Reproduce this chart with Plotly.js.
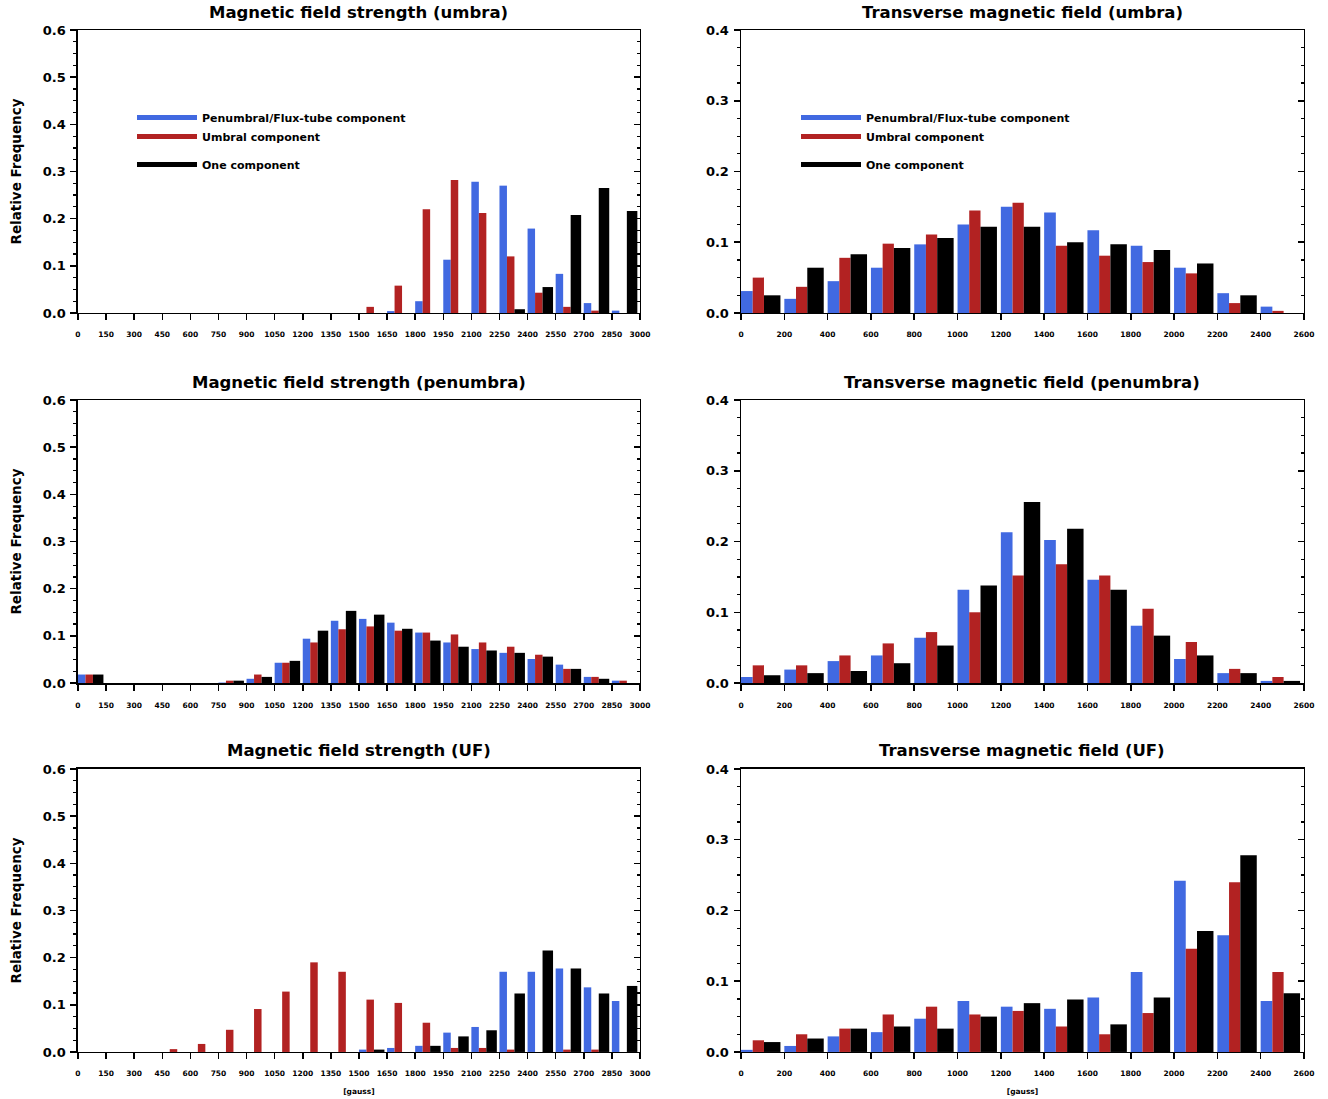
<!DOCTYPE html>
<html><head><meta charset="utf-8">
<script src="https://cdn.plot.ly/plotly-3.0.1.min.js"></script>
<style>html,body{margin:0;padding:0;background:#fff}#chart{width:1328px;height:1099px}</style>
</head><body><div id="chart"></div>
<script>
// ---- categories (bin left edges, gauss) ----
const fieldBins = [0,150,300,450,600,750,900,1050,1200,1350,1500,1650,1800,1950,2100,2250,2400,2550,2700,2850];
const transBins = [0,200,400,600,800,1000,1200,1400,1600,1800,2000,2200,2400];
// ---- tick labels ----
const fieldTicks = [0,150,300,450,600,750,900,1050,1200,1350,1500,1650,1800,1950,2100,2250,2400,2550,2700,2850,3000];
const transTicks = [0,200,400,600,800,1000,1200,1400,1600,1800,2000,2200,2400,2600];
const seriesNames = ['Penumbral/Flux-tube component','Umbral component','One component'];
const panelTitles = ['Magnetic field strength (umbra)','Transverse magnetic field (umbra)',
  'Magnetic field strength (penumbra)','Transverse magnetic field (penumbra)',
  'Magnetic field strength (UF)','Transverse magnetic field (UF)'];

// ---- umbra: field strength ----
const umbraFieldPF  = [0,0,0,0,0,0,0,0,0,0,0,0.004,0.025,0.113,0.278,0.270,0.179,0.083,0.021,0.005];
const umbraFieldUmb = [0,0,0,0,0,0,0,0,0,0,0.013,0.058,0.220,0.282,0.212,0.120,0.043,0.013,0.005,0];
const umbraFieldOne = [0,0,0,0,0,0,0,0,0,0,0,0,0,0,0,0.008,0.055,0.208,0.265,0.216];
// ---- umbra: transverse ----
const umbraTransPF  = [0.031,0.020,0.045,0.064,0.097,0.125,0.150,0.142,0.117,0.095,0.064,0.028,0.009];
const umbraTransUmb = [0.050,0.037,0.078,0.098,0.111,0.145,0.156,0.095,0.081,0.072,0.056,0.014,0.003];
const umbraTransOne = [0.025,0.064,0.083,0.092,0.106,0.122,0.122,0.100,0.097,0.089,0.070,0.025,0];
// ---- penumbra: field strength ----
const penFieldPF  = [0.018,0,0,0,0,0.001,0.009,0.043,0.094,0.132,0.136,0.128,0.107,0.086,0.072,0.064,0.051,0.039,0.013,0.005];
const penFieldUmb = [0.018,0,0,0,0,0.005,0.018,0.043,0.086,0.114,0.120,0.111,0.107,0.103,0.086,0.077,0.060,0.030,0.013,0.005];
const penFieldOne = [0.018,0,0,0,0,0.005,0.013,0.047,0.111,0.153,0.145,0.115,0.090,0.077,0.069,0.064,0.056,0.030,0.009,0];
// ---- penumbra: transverse ----
const penTransPF  = [0.0085,0.019,0.031,0.039,0.064,0.132,0.213,0.202,0.146,0.081,0.034,0.014,0.003];
const penTransUmb = [0.025,0.025,0.039,0.056,0.072,0.100,0.152,0.168,0.152,0.105,0.058,0.020,0.0085];
const penTransOne = [0.011,0.014,0.017,0.028,0.053,0.138,0.256,0.218,0.132,0.067,0.039,0.014,0.003];
// ---- UF: field strength ----
const ufFieldPF  = [0,0,0,0,0,0,0,0,0,0,0.005,0.0085,0.013,0.041,0.053,0.170,0.170,0.177,0.137,0.108];
const ufFieldUmb = [0,0,0,0.006,0.017,0.047,0.091,0.128,0.190,0.170,0.111,0.104,0.062,0.0085,0.0085,0.005,0,0.005,0.005,0];
const ufFieldOne = [0,0,0,0,0,0,0,0,0,0,0.005,0,0.013,0.033,0.046,0.124,0.215,0.177,0.124,0.140];
// ---- UF: transverse ----
const ufTransPF  = [0.003,0.0085,0.022,0.028,0.047,0.072,0.064,0.061,0.077,0.113,0.242,0.165,0.072];
const ufTransUmb = [0.0165,0.025,0.033,0.053,0.064,0.053,0.058,0.036,0.025,0.055,0.146,0.240,0.113];
const ufTransOne = [0.014,0.019,0.033,0.036,0.033,0.050,0.069,0.074,0.039,0.077,0.171,0.278,0.083];

// ---- styling ----
const colors = ['#4169E1','#B22222','#000000'];
const FONT = 'DejaVu Sans, Liberation Sans, sans-serif';
const barGeom = {
  field: {offset:[0,40,80], width:[40,40,56]},
  trans: {offset:[0,54,106], width:[54,52,76]}
};
const panels = [
  {n:1, kind:'field', bins:fieldBins, ticks:fieldTicks, ys:[umbraFieldPF,umbraFieldUmb,umbraFieldOne]},
  {n:2, kind:'trans', bins:transBins, ticks:transTicks, ys:[umbraTransPF,umbraTransUmb,umbraTransOne]},
  {n:3, kind:'field', bins:fieldBins, ticks:fieldTicks, ys:[penFieldPF,penFieldUmb,penFieldOne]},
  {n:4, kind:'trans', bins:transBins, ticks:transTicks, ys:[penTransPF,penTransUmb,penTransOne]},
  {n:5, kind:'field', bins:fieldBins, ticks:fieldTicks, ys:[ufFieldPF,ufFieldUmb,ufFieldOne]},
  {n:6, kind:'trans', bins:transBins, ticks:transTicks, ys:[ufTransPF,ufTransUmb,ufTransOne]}
];
const xDom = {L:[0.0587,0.4819], R:[0.5580,0.9819]};
const yDom = [[0.7152,0.9727],[0.3785,0.6360],[0.0428,0.3003]];

const data = [];
const layout = {
  width:1328, height:1099, margin:{l:0,r:0,t:0,b:0},
  paper_bgcolor:'#fff', plot_bgcolor:'#fff',
  barmode:'overlay', showlegend:true,
  font:{family:FONT, color:'#000'},
  annotations:[]
};

panels.forEach((p,i)=>{
  const sx = p.n===1?'':p.n, xa='x'+sx, ya='y'+sx;
  const g = barGeom[p.kind];
  p.ys.forEach((vals,k)=>{
    data.push({type:'bar', x:p.bins, y:vals, xaxis:xa, yaxis:ya,
      offset:g.offset[k], width:g.width[k],
      marker:{color:colors[k], line:{width:0}}, showlegend:false, hoverinfo:'x+y'});
  });
  const left = (i%2===0), row = Math.floor(i/2);
  const ymax = p.kind==='field'?0.6:0.4;
  const xmax = p.ticks[p.ticks.length-1];
  layout['xaxis'+sx] = {
    domain: left?xDom.L:xDom.R, anchor:ya, range:[0,xmax],
    tickmode:'array', tickvals:p.ticks, ticktext:p.ticks.map(String),
    ticks:'outside', ticklen:6, tickwidth:1.5, tickcolor:'#000',
    showline:true, linecolor:'#000', linewidth:1.5, mirror:true,
    showgrid:false, zeroline:false, fixedrange:true,
    tickfont:{family:FONT, size:7.5, weight:'bold'}, ticklabelstandoff:8,
    title: row===2 ? {text:'[gauss]', font:{family:FONT, size:7.5, weight:'bold'}, standoff:11} : {text:''}
  };
  layout['yaxis'+sx] = {
    domain: yDom[row], anchor:xa, range:[0,ymax],
    tickmode:'linear', tick0:0, dtick:0.1, tickformat:'.1f',
    ticks:'outside', ticklen:6, tickwidth:1.5, tickcolor:'#000',
    minor:{dtick:0.025, ticks:'outside', ticklen:3, tickwidth:1.2, tickcolor:'#000'},
    showline:true, linecolor:'#000', linewidth:1.5, mirror:true,
    showgrid:false, zeroline:false, fixedrange:true,
    tickfont:{family:FONT, size:13, weight:'bold'}, ticklabelstandoff:2,
    title: left ? {text:'Relative Frequency', font:{family:FONT, size:13.5, weight:'bold'}, standoff:18} : {text:''}
  };
  // right-hand inside ticks (overlay axis carrying an empty trace)
  const oyName = 'y'+(p.n+6);
  layout['yaxis'+(p.n+6)] = {
    overlaying:ya, anchor:xa, side:'right', range:[0,ymax],
    tickmode:'linear', tick0:0, dtick:0.1,
    ticks:'inside', ticklen:6, tickwidth:1.5, tickcolor:'#000',
    minor:{dtick:0.025, ticks:'inside', ticklen:3, tickwidth:1.2, tickcolor:'#000'},
    showticklabels:false, showline:false, showgrid:false, zeroline:false, fixedrange:true
  };
  data.push({type:'scatter', mode:'lines', x:[null], y:[null], xaxis:xa, yaxis:oyName,
    showlegend:false, hoverinfo:'skip'});
  layout.annotations.push({
    text: panelTitles[i], xref:xa+' domain', yref:ya+' domain', x:0.5, y:1,
    yshift:18, xanchor:'center', yanchor:'middle', showarrow:false,
    font:{family:FONT, size:16.5, weight:'bold', color:'#000'}
  });
});

// legends (top row), line-style legend samples
['legend','legend2'].forEach((lg,j)=>{
  seriesNames.forEach((nm,k)=>{
    data.push({type:'scatter', mode:'lines', x:[null], y:[null],
      xaxis: j===0?'x':'x2', yaxis: j===0?'y':'y2',
      name:nm, legend:lg, legendgroup: k<2?'a':'b',
      line:{color:colors[k], width:5}, hoverinfo:'skip'});
  });
  layout[lg] = {
    x: j===0 ? 0.0994 : 0.5994, y: 0.9062, xanchor:'left', yanchor:'top',
    bgcolor:'rgba(0,0,0,0)', borderwidth:0, traceorder:'grouped', tracegroupgap:9,
    itemwidth:60, itemclick:false, itemdoubleclick:false,
    font:{family:FONT, size:11, weight:'bold', color:'#000'}
  };
});

Plotly.newPlot('chart', data, layout, {displayModeBar:false, staticPlot:true});
</script></body></html>
